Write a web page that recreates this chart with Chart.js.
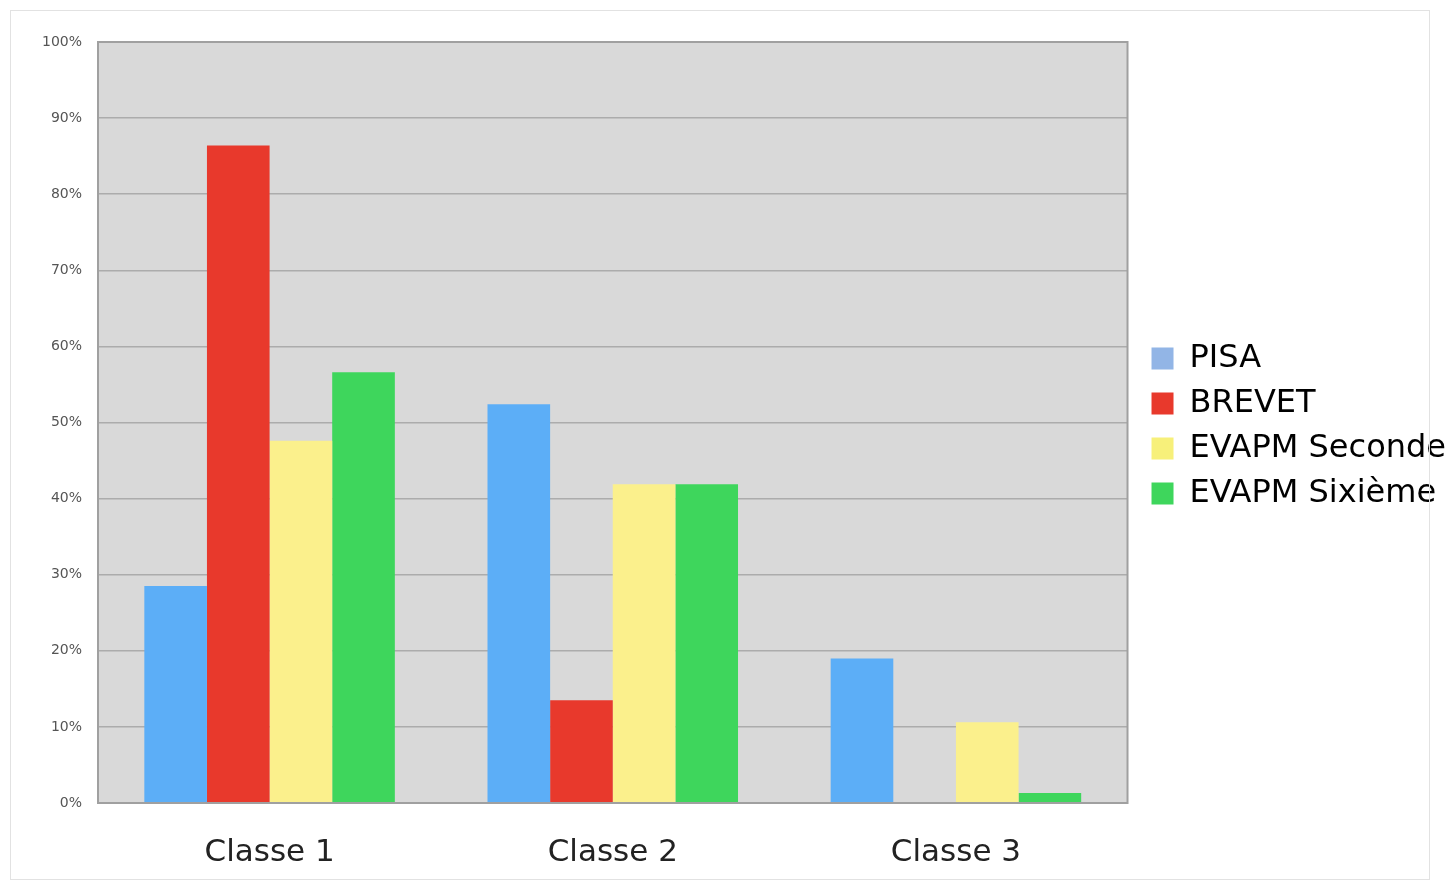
<!DOCTYPE html>
<html>
<head>
<meta charset="utf-8">
<title>Classes</title>
<script src="https://cdn.jsdelivr.net/npm/chart.js@4.4.1/dist/chart.umd.min.js"></script>
<style>
  html, body { margin: 0; padding: 0; background: #fff; overflow: hidden; }
  #wrap { position: relative; width: 1451px; height: 892px; }
  #chart { display: block; }
  #frame { position: absolute; left: 10px; top: 10px; width: 1420px; height: 870px;
           border: 1px solid #e2e2e2; box-sizing: border-box; pointer-events: none; }
</style>
</head>
<body>
<div id="wrap">
  <div id="frame"></div>
  <canvas id="chart" width="1451" height="892"></canvas>
</div>
<script>
// data
const categories = ["Classe 1", "Classe 2", "Classe 3"];
const seriesNames = ["PISA", "BREVET", "EVAPM Seconde", "EVAPM Sixième"];
const pisa = [28.5, 52.4, 19.0];
const brevet = [86.4, 13.5, 0];
const evapmSeconde = [47.6, 41.9, 10.6];
const evapmSixieme = [56.6, 41.9, 1.3];
const yTicks = [0, 10, 20, 30, 40, 50, 60, 70, 80, 90, 100];

const barColors = ["#5caef7", "#e8392c", "#fbf08c", "#3ed65c"];
const legendColors = ["#92b5e6", "#e8392c", "#f7f07a", "#3ed65c"];

const plotBg = {
    id: "plotBg",
    afterLayout(chart) {
        // nudge the legend to where it sits in the picture
        const lg = chart.legend;
        lg.left += 11;
        lg.right += 11;
        lg.top -= 41;
        lg.bottom -= 41;
    },
    beforeDraw(chart) {
        const {ctx, chartArea: a} = chart;
        ctx.save();
        ctx.fillStyle = "#d9d9d9";
        ctx.fillRect(a.left, a.top, a.right - a.left, a.bottom - a.top);
        ctx.restore();
    },
    afterDatasetsDraw(chart) {
        const {ctx, chartArea: a} = chart;
        ctx.save();
        ctx.strokeStyle = "#a0a0a0";
        ctx.lineWidth = 2;
        ctx.strokeRect(a.left, a.top, a.right - a.left, a.bottom - a.top);
        ctx.restore();
    }
};

const values = [pisa, brevet, evapmSeconde, evapmSixieme];

let ctx = document.getElementById("chart").getContext("2d");
let chart = new Chart(ctx, {
    type: "bar",
    data: {
        labels: categories,
        datasets: seriesNames.map((name, i) => ({
            label: name,
            data: values[i],
            backgroundColor: barColors[i],
            borderWidth: 0,
            categoryPercentage: 0.73,
            barPercentage: 1.0
        }))
    },
    options: {
        responsive: false,
        animation: false,
        layout: {
            padding: {left: 10, top: 42, right: 6, bottom: 0}
        },
        scales: {
            x: {
                grid: {display: false},
                border: {display: false},
                afterFit: (axis) => { axis.height = 89; },
                ticks: {
                    font: {family: "DejaVu Sans", size: 31},
                    color: "#222",
                    padding: 23
                }
            },
            y: {
                min: 0,
                max: 100,
                afterBuildTicks: (axis) => {
                    axis.ticks = yTicks.map(v => ({value: v}));
                },
                afterFit: (axis) => { axis.width = 88; },
                grid: {color: "#acacac", lineWidth: 1.5, drawTicks: false},
                border: {display: false},
                ticks: {
                    font: {family: "DejaVu Sans", size: 14},
                    color: "#555",
                    padding: 16,
                    callback: (v) => v + "%"
                }
            }
        },
        plugins: {
            legend: {
                position: "right",
                labels: {
                    font: {family: "DejaVu Sans", size: 32},
                    color: "#222",
                    boxWidth: 22,
                    boxHeight: 22,
                    padding: 13,
                    generateLabels: (c) => c.data.datasets.map((d, i) => ({
                        text: d.label,
                        fillStyle: legendColors[i],
                        strokeStyle: legendColors[i],
                        lineWidth: 0,
                        datasetIndex: i
                    }))
                }
            },
            tooltip: {enabled: false}
        }
    },
    plugins: [plotBg]
});
</script>
</body>
</html>
